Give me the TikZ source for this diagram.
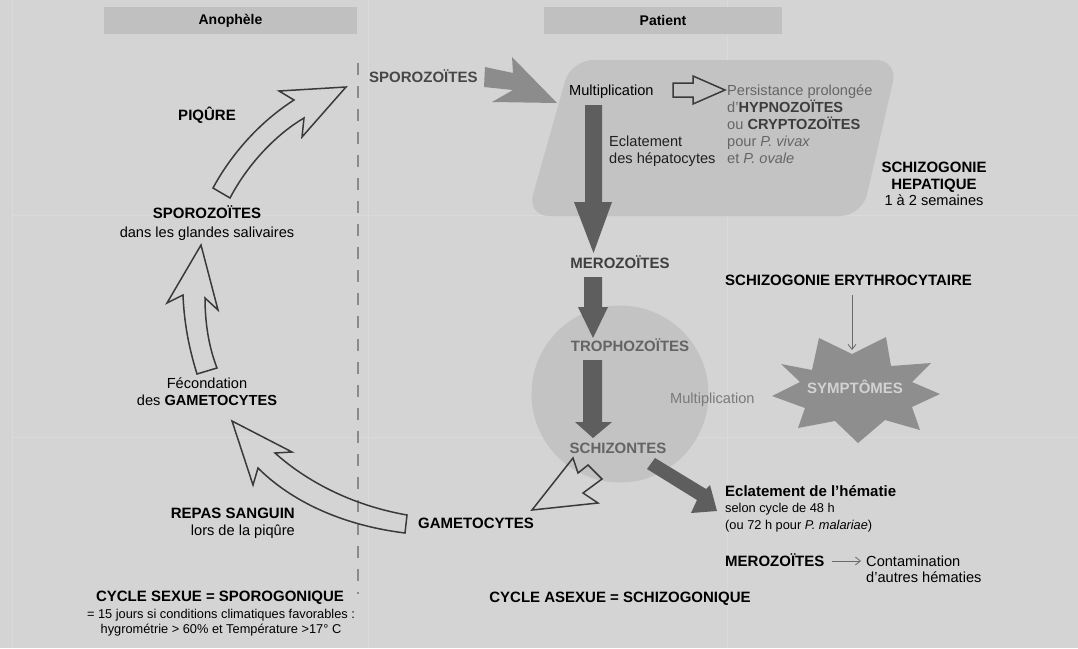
\documentclass[tikz,border=0pt]{standalone}
\usepackage{fontspec}
\setmainfont{Liberation Sans}
\usetikzlibrary{arrows.meta}
\definecolor{bg}{HTML}{D4D4D4}
\definecolor{hdr}{HTML}{C0C0C0}
\definecolor{zone}{HTML}{C3C3C3}
\definecolor{darkarrow}{HTML}{5E5E5E}
\definecolor{midarrow}{HTML}{8C8C8C}
\definecolor{outl}{HTML}{3A3A3A}
\definecolor{starc}{HTML}{8E8E8E}
\definecolor{gridc}{HTML}{DADADA}
\definecolor{sporoc}{HTML}{474747}
\definecolor{pgray}{HTML}{666666}
\definecolor{pdark}{HTML}{3D3D3D}
\definecolor{merc}{HTML}{3F3F3F}
\definecolor{troc}{HTML}{646464}
\definecolor{mgray}{HTML}{7A7A7A}
\definecolor{symc}{HTML}{D2D2D2}
\definecolor{thinc}{HTML}{6A6A6A}
\definecolor{dashc}{HTML}{8A8A8A}
\tikzset{
  lbl/.style={inner sep=0pt, font=\fontsize{14.6}{17}\selectfont, text=black},
  blbl/.style={inner sep=0pt, font=\fontsize{15}{17}\selectfont\bfseries, text=black},
  small/.style={inner sep=0pt, font=\fontsize{12.8}{15}\selectfont, text=black},
  hdrbox/.style={fill=hdr, inner sep=0pt, minimum width=253pt, minimum height=27pt, font=\fontsize{14}{16}\selectfont\bfseries},
  hollow/.style={draw=outl, line width=1.5pt, line join=miter},
  solidarrow/.style={fill=darkarrow},
  thinarr/.style={draw=thinc, line width=0.8pt, -{Straight Barb[length=5pt,width=8pt]}},
  dashline/.style={draw=dashc, line width=1.2pt, dash pattern=on 12pt off 11pt},
}
\begin{document}
\begin{tikzpicture}[x=1pt,y=-1pt]
\useasboundingbox (0,0) rectangle (1078,648);
\fill[bg] (0,0) rectangle (1078,648);
% faint grid
\draw[gridc, line width=1pt] (12,0) -- (12,648) (368,0) -- (368,648) (727,0) -- (727,648)
  (12,215) -- (1078,215) (12,437) -- (1078,437);
% headers
\node[hdrbox] (hA) at (230.5,20.5) {Anophèle};
\node[hdrbox, minimum width=238pt] (hP) at (663,20.5) {Patient};
% zones
\fill[zone, rounded corners=22pt] (571,60) -- (898,60) -- (862,216) -- (527,216) -- cycle;
\fill[zone] (620,394) circle[radius=88.5];
% dashed separator
\draw[dashline] (358,63) -- (358,594);
% sporozoites arrow into liver
\fill[midarrow] (485,67) -- (513,73) -- (512,57) -- (557,103) -- (492,102) -- (513,90) -- (484,87) -- cycle;
% hollow arrow multiplication -> persistance
\draw[hollow] (673,83) -- (693,83) -- (693,76) -- (725,90) -- (693,104) -- (693,97) -- (673,97) -- cycle;
% dark down arrows
\fill[solidarrow] (585,105) -- (602,105) -- (602,202) -- (612,202) -- (593.5,253) -- (574,202) -- (585,202) -- cycle;
\fill[solidarrow] (584,277) -- (602,277) -- (602,307) -- (608,307) -- (593,338) -- (578,307) -- (584,307) -- cycle;
\fill[solidarrow] (583,360) -- (602,360) -- (602,422) -- (612,422) -- (593,438) -- (575,422) -- (583,422) -- cycle;
% schizontes -> eclatement
\fill[solidarrow] (647,469) -- (655,458) -- (706,489) -- (710,485) -- (717,511) -- (691,513) -- (697,500) -- cycle;
% schizontes -> gametocytes (hollow)
\draw[hollow] (532,510) -- (573,458) -- (578,473) -- (588,465) -- (602,479) -- (583,493) -- (598,503) -- cycle;
% gametocytes -> fecondation (big hollow curved)
\draw[hollow] (405,533) .. controls (340,525) and (290,500) .. (258,468) -- (253,485) -- (232,421) -- (292,452) -- (275,453) .. controls (305,480) and (350,505) .. (407,515) -- cycle;
% fecondation -> sporozoites (hollow up)
\draw[hollow] (197,374) .. controls (188,345) and (184,320) .. (183,295) -- (167,303) -- (201,245) -- (218,310) -- (205,298) .. controls (205,320) and (208,345) .. (217,368) -- cycle;
% piqure arrow
\draw[hollow] (213,188) .. controls (228,160) and (255,125) .. (294,100) -- (279,91) -- (346,87) -- (302,137) -- (304,118) .. controls (280,132) and (250,160) .. (230,198) -- cycle;
% star
\fill[starc] (819,338) -- (852,354) -- (886,337) -- (891,366) -- (931,363) -- (912,382) -- (940,394) -- (912,407) -- (920,430) -- (885,420) -- (858,443) -- (835,421) -- (798,428) -- (805,408) -- (772,396) -- (800,382) -- (781,364) -- (812,370) -- cycle;
\coordinate (starTop) at (852,350);
% texts
\node[blbl, text=sporoc, anchor=base west] (spT) at (369,82) {SPOROZOÏTES};
\node[lbl, anchor=base west] (mult1) at (569,95) {Multiplication};
\node[lbl, text=pgray, anchor=base west] (pers1) at (727,95) {Persistance prolongée};
\node[lbl, text=pgray, anchor=base west] (pers2) at (727,112) {d’\textbf{\color{pdark}HYPNOZOÏTES}};
\node[lbl, text=pgray, anchor=base west] (pers3) at (727,129) {ou \textbf{\color{pdark}CRYPTOZOÏTES}};
\node[lbl, text=pgray, anchor=base west] (pers4) at (727,146) {pour \textit{P. vivax}};
\node[lbl, text=pgray, anchor=base west] (pers5) at (727,163) {et \textit{P. ovale}};
\node[lbl, text=black!88, anchor=base west] (ecl1) at (609,146) {Eclatement};
\node[lbl, text=black!88, anchor=base west] (ecl2) at (609,163) {des hépatocytes};
\node[blbl, anchor=base] (sh1) at (934,172) {SCHIZOGONIE};
\node[blbl, anchor=base] (sh2) at (934,189) {HEPATIQUE};
\node[lbl, anchor=base] (sh3) at (934,205) {1 à 2 semaines};
\node[blbl, text=merc, anchor=base] (mer1) at (620,268) {MEROZOÏTES};
\node[blbl, text=troc, anchor=base] (tro) at (630,351) {TROPHOZOÏTES};
\node[blbl, text=troc, anchor=base] (sch) at (618,453) {SCHIZONTES};
\node[lbl, text=mgray, anchor=base west] (mult2) at (670,403) {Multiplication};
\node[blbl, anchor=base west] (sE) at (725,285) {SCHIZOGONIE ERYTHROCYTAIRE};
\node[blbl, text=symc] (sym) at (855,387) {SYMPTÔMES};
\node[blbl, anchor=base west] (eh1) at (725,496) {Eclatement de l’hématie};
\node[small, anchor=base west] (eh2) at (725,512) {selon cycle de 48 h};
\node[small, anchor=base west] (eh3) at (725,529) {(ou 72 h pour \textit{P. malariae})};
\node[blbl, anchor=base west] (mer2) at (725,566) {MEROZOÏTES};
\node[lbl, anchor=base west] (cont1) at (866,566) {Contamination};
\node[lbl, anchor=base west] (cont2) at (866,582) {d’autres hématies};
\node[blbl, anchor=base] (cyA) at (620,602) {CYCLE ASEXUE = SCHIZOGONIQUE};
\node[blbl, anchor=base] (cyS) at (220,601) {CYCLE SEXUE = SPOROGONIQUE};
\node[small, anchor=base] (cyS2) at (221,618) {= 15 jours si conditions climatiques favorables :};
\node[small, anchor=base] (cyS3) at (221,633) {hygrométrie > 60\% et Température >17° C};
\node[blbl, anchor=base east] (rep1) at (295,518) {REPAS SANGUIN};
\node[lbl, anchor=base east] (rep2) at (295,535) {lors de la piqûre};
\node[blbl, anchor=base west] (gam) at (418,528) {GAMETOCYTES};
\node[lbl, anchor=base] (fec1) at (207,388) {Fécondation};
\node[lbl, anchor=base] (fec2) at (207,405) {des \textbf{GAMETOCYTES}};
\node[blbl, anchor=base] (spL1) at (207,218) {SPOROZOÏTES};
\node[lbl, anchor=base] (spL2) at (207,237) {dans les glandes salivaires};
\node[blbl, anchor=base] (piq) at (207,120) {PIQÛRE};
% thin arrows
\draw[thinarr] (sE.south -| starTop) ++(0,10) -- (starTop);
\draw[thinarr] ([shift={(7,-5)}]mer2.base east) -- ([shift={(-5,-5)}]cont1.base west);
\end{tikzpicture}
\end{document}
